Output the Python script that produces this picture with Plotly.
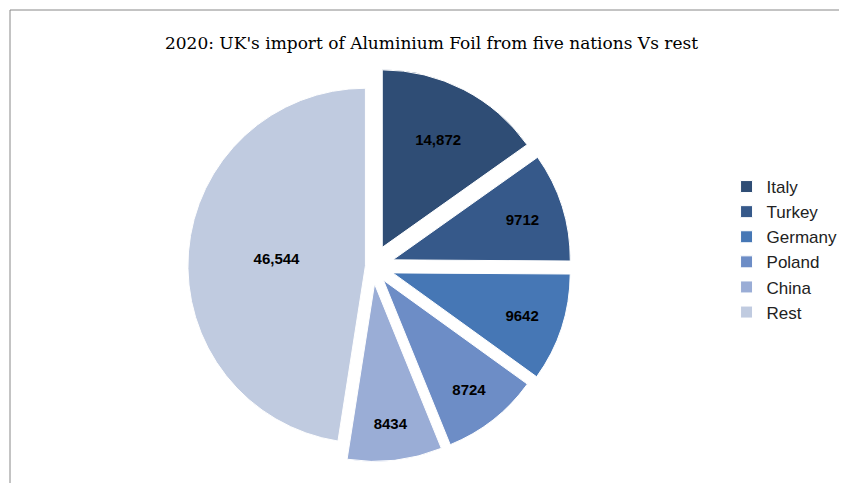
import plotly.graph_objects as go

labels = ["Italy", "Turkey", "Germany", "Poland", "China", "Rest"]
values = [14872, 9712, 9642, 8724, 8434, 46544]
text_labels = ["14,872", "9712", "9642", "8724", "8434", "46,544"]
colors = ["#2F4D75", "#36598A", "#4677B5", "#6D8DC6", "#9AADD6", "#C0CBE0"]

fig = go.Figure(go.Pie(
    labels=labels, values=values, text=text_labels, textinfo="text",
    sort=False, direction="clockwise", rotation=0,
    pull=[0.12, 0.12, 0.12, 0.1, 0.1, 0.04],
    marker=dict(colors=colors, line=dict(color="#FFFFFF", width=1)),
    textfont=dict(family="Liberation Sans", size=15, color="black", weight="bold"),
    textposition="inside", insidetextorientation="horizontal",
    domain=dict(x=[0.06, 0.8], y=[0.05, 0.88]),
))
fig.update_layout(
    width=847, height=483, paper_bgcolor="white",
    margin=dict(l=2, r=2, t=2, b=2),
    title=dict(text="2020: UK's import of Aluminium Foil from five nations Vs rest",
               x=0.5, y=0.94, xanchor="center",
               font=dict(family="DejaVu Serif", size=17, color="black")),
    legend=dict(x=0.85, y=0.5, yanchor="middle",
                font=dict(family="Liberation Sans", size=17, color="#222"),
                itemwidth=30),
    shapes=[dict(type="rect", xref="paper", yref="paper", x0=0, y0=0, x1=1, y1=1,
                 line=dict(color="#888", width=1))],
)
fig.write_html("out.html")
